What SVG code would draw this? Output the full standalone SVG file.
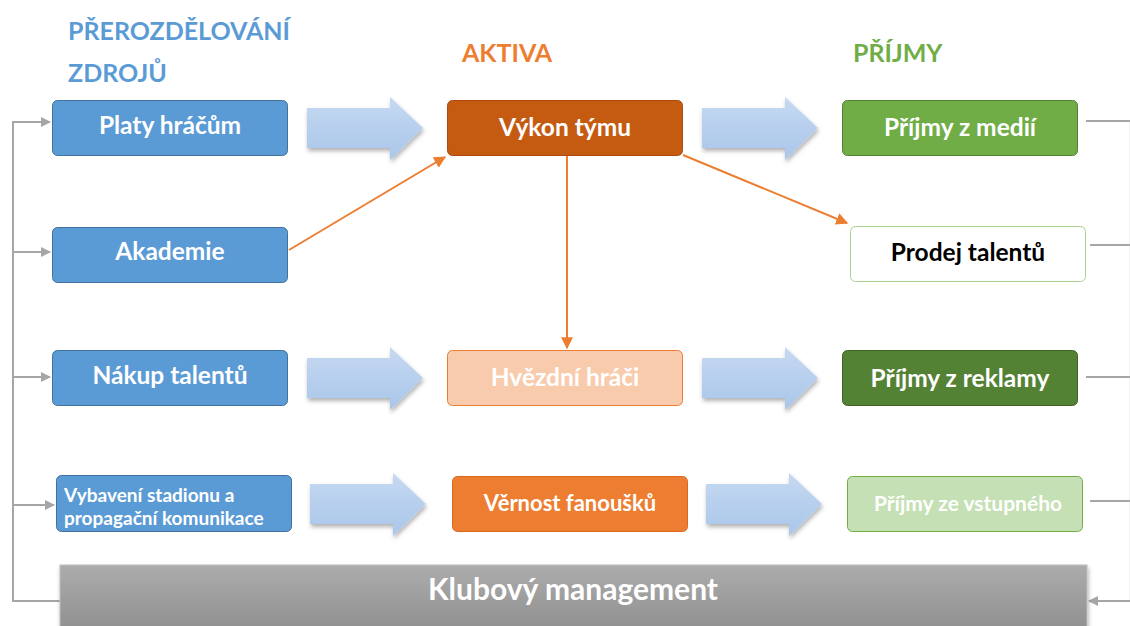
<svg xmlns="http://www.w3.org/2000/svg" width="1130" height="626" viewBox="0 0 1130 626">
  <defs>
    <linearGradient id="gArrow" x1="0" y1="0" x2="0" y2="1">
      <stop offset="0" stop-color="#c6d9f1"/>
      <stop offset="1" stop-color="#a9c6ea"/>
    </linearGradient>
    <linearGradient id="gMgmt" x1="0" y1="0" x2="0" y2="1">
      <stop offset="0" stop-color="#acacac"/>
      <stop offset="1" stop-color="#8e8e8e"/>
    </linearGradient>
    <filter id="shadow" x="-10%" y="-10%" width="125%" height="135%">
      <feDropShadow dx="1" dy="3" stdDeviation="2" flood-color="#000" flood-opacity="0.3"/>
    </filter>
    <marker id="mOrange" viewBox="0 0 10 10" refX="9" refY="5" markerWidth="6" markerHeight="6" orient="auto">
      <path d="M0,0 L10,5 L0,10 z" fill="#ed7d31"/>
    </marker>
    <marker id="mGray" viewBox="0 0 10 10" refX="9" refY="5" markerWidth="5" markerHeight="5" orient="auto">
      <path d="M0,0 L10,5 L0,10 z" fill="#a6a6a6"/>
    </marker>
    <path id="blockArrow" d="M0,11 H83 V0 L116,31 L83,63 V51 H0 z"/>
  </defs>
  <style>
    text { font-family: Lato, "Open Sans", "Liberation Sans", sans-serif; font-weight: 700; }
    .lbl { font-size: 24.5px; fill: #ffffff; text-anchor: middle; }
    .head { font-size: 25px; }
    .blue { fill: #5b9bd5; stroke: #41719c; stroke-width: 1; }
    .gray { fill: none; stroke: #a6a6a6; stroke-width: 2; }
    .orange { fill: none; stroke: #ed7d31; stroke-width: 2; }
    .blk { fill: url(#gArrow); filter: url(#shadow); }
  </style>

  <rect width="1130" height="626" fill="#ffffff"/>

  <!-- column headings -->
  <text class="head" x="68" y="40" fill="#5b9bd5">PŘEROZDĚLOVÁNÍ</text>
  <text class="head" x="68" y="82" fill="#5b9bd5">ZDROJŮ</text>
  <text class="head" x="462" y="62" fill="#ed7d31">AKTIVA</text>
  <text class="head" x="853" y="62" fill="#70ad47">PŘÍJMY</text>

  <!-- connectors -->
  <g id="connectors">
    <!-- feedback loop from management back to resources -->
    <path class="gray" d="M60,601 H13 V122 H50" marker-end="url(#mGray)"/>
    <path class="gray" d="M13,252 H50" marker-end="url(#mGray)"/>
    <path class="gray" d="M13,377 H50" marker-end="url(#mGray)"/>
    <path class="gray" d="M13,505 H54" marker-end="url(#mGray)"/>
    <!-- revenue lines to the right edge -->
    <path class="gray" d="M1086,121 H1131"/>
    <path class="gray" d="M1090,245 H1131"/>
    <path class="gray" d="M1086,377 H1131"/>
    <path class="gray" d="M1090,501 H1131"/>
    <path class="gray" d="M1130,121 V601" stroke-opacity="0.15"/>
    <path class="gray" d="M1131,601 H1089" marker-end="url(#mGray)"/>
    <!-- asset links -->
    <path class="orange" d="M289,250 L445,157" marker-end="url(#mOrange)"/>
    <path class="orange" d="M567,156 V348" marker-end="url(#mOrange)"/>
    <path class="orange" d="M683,155 L847,223" marker-end="url(#mOrange)"/>
    <!-- block flow arrows -->
    <use href="#blockArrow" class="blk" x="307" y="97"/>
    <use href="#blockArrow" class="blk" x="702" y="97"/>
    <use href="#blockArrow" class="blk" x="307" y="347"/>
    <use href="#blockArrow" class="blk" x="702" y="347"/>
    <use href="#blockArrow" class="blk" x="310" y="473"/>
    <use href="#blockArrow" class="blk" x="706" y="473"/>
  </g>

  <!-- resource nodes -->
  <g id="platy">
    <rect class="blue" x="52.5" y="100.5" width="235" height="55" rx="5"/>
    <text class="lbl" x="170" y="134">Platy hráčům</text>
  </g>
  <g id="akademie">
    <rect class="blue" x="52.5" y="227.5" width="235" height="55" rx="5"/>
    <text class="lbl" x="170" y="260">Akademie</text>
  </g>
  <g id="nakup">
    <rect class="blue" x="52.5" y="350.5" width="235" height="55" rx="5"/>
    <text class="lbl" x="170" y="384">Nákup talentů</text>
  </g>
  <g id="vybaveni">
    <rect class="blue" x="56.5" y="475.5" width="235" height="56" rx="5"/>
    <text x="64" y="502" style="font-size:19px" fill="#ffffff">Vybavení stadionu a</text>
    <text x="64" y="525" style="font-size:19px" fill="#ffffff">propagační komunikace</text>
  </g>

  <!-- asset nodes -->
  <g id="vykon">
    <rect x="447.5" y="100.5" width="235" height="55" rx="5" fill="#c55a11" stroke="#ae4a0c"/>
    <text class="lbl" x="565" y="136">Výkon týmu</text>
  </g>
  <g id="hvezdni">
    <rect x="447.5" y="350.5" width="235" height="55" rx="5" fill="#f8cbad" stroke="#ed7d31"/>
    <text class="lbl" x="565" y="386">Hvězdní hráči</text>
  </g>
  <g id="vernost">
    <rect x="452.5" y="476.5" width="235" height="55" rx="5" fill="#ed7d31" stroke="#d9691f"/>
    <text class="lbl" x="570" y="511" style="font-size:22px">Věrnost fanoušků</text>
  </g>

  <!-- revenue nodes -->
  <g id="media">
    <rect x="842.5" y="100.5" width="235" height="55" rx="5" fill="#70ad47" stroke="#507e32"/>
    <text class="lbl" x="960" y="136">Příjmy z medií</text>
  </g>
  <g id="prodej">
    <rect x="850.5" y="226.5" width="235" height="55" rx="5" fill="#ffffff" stroke="#a9d18e"/>
    <text class="lbl" x="968" y="261" style="fill:#000000">Prodej talentů</text>
  </g>
  <g id="reklama">
    <rect x="842.5" y="350.5" width="235" height="55" rx="5" fill="#548235" stroke="#3e6327"/>
    <text class="lbl" x="960" y="387">Příjmy z reklamy</text>
  </g>
  <g id="vstupne">
    <rect x="847.5" y="476.5" width="235" height="55" rx="5" fill="#c5e0b4" stroke="#70ad47"/>
    <text class="lbl" x="968" y="511" style="font-size:21px">Příjmy ze vstupného</text>
  </g>

  <!-- management bar -->
  <g id="management">
    <rect x="60" y="565" width="1027" height="70" fill="url(#gMgmt)" stroke="#bfbfbf" filter="url(#shadow)"/>
    <text class="lbl" x="573" y="600" style="font-size:30px">Klubový management</text>
  </g>
</svg>
